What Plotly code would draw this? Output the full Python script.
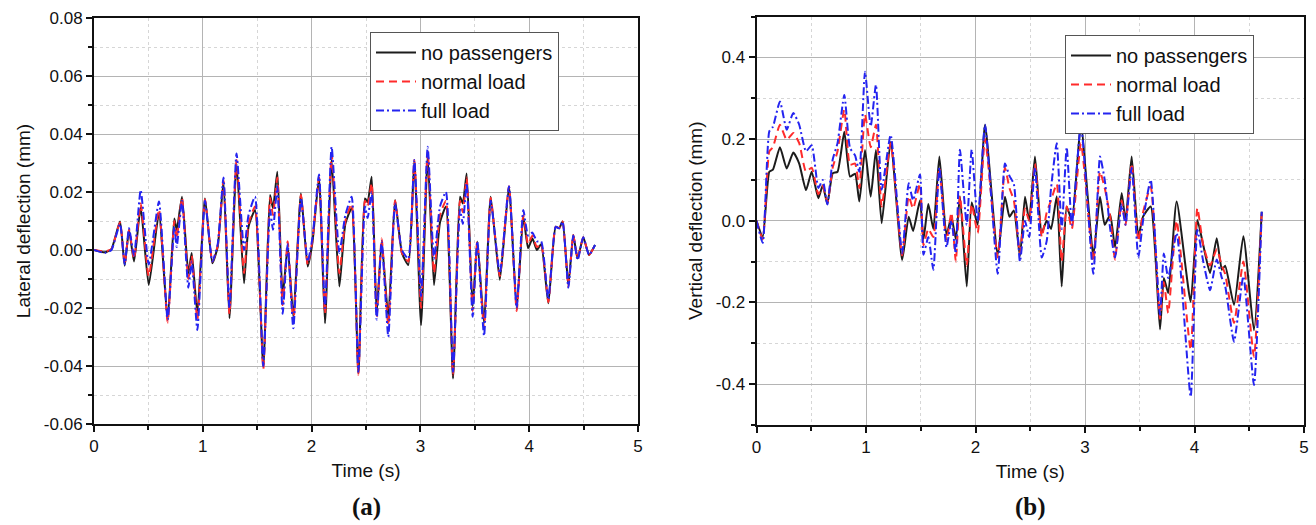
import plotly.graph_objects as go

# ---------------- data: lateral deflection (a) ----------------
t_lat = [0, 0.1, 0.16, 0.239, 0.282, 0.322, 0.368, 0.429, 0.503, 0.597, 0.677, 0.738, 0.76, 0.809,
         0.867, 0.898, 0.95, 1.02, 1.088, 1.137, 1.19, 1.245, 1.31, 1.379, 1.42, 1.48, 1.556, 1.618,
         1.645, 1.685, 1.734, 1.78, 1.832, 1.902, 1.964, 2.007, 2.068, 2.123, 2.184, 2.255, 2.31,
         2.368, 2.43, 2.49, 2.515, 2.552, 2.598, 2.644, 2.705, 2.767, 2.83, 2.889, 2.944, 3.006,
         3.067, 3.125, 3.18, 3.235, 3.3, 3.364, 3.39, 3.425, 3.48, 3.523, 3.585, 3.646, 3.73, 3.814,
         3.885, 3.946, 3.99, 4.03, 4.07, 4.11, 4.176, 4.243, 4.275, 4.307, 4.36, 4.405, 4.445,
         4.497, 4.55, 4.605]
lat_none = [0, -0.0008, 0.0003, 0.0098, -0.0054, 0.0069, -0.004, 0.0147, -0.0121, 0.0126, -0.0241,
            0.0109, 0.0069, 0.0184, -0.008, -0.001, -0.0218, 0.0178, -0.0046, 0.0011, 0.0236,
            -0.0235, 0.0299, -0.0115, 0.008, 0.0138, -0.0402, 0.019, 0.0144, 0.027, -0.016, 0.0012,
            -0.023, 0.0195, -0.0057, 0.0024, 0.0247, -0.0253, 0.031, -0.0126, 0.009, 0.0144, -0.0425,
            0.0178, 0.0165, 0.0253, -0.0218, 0.0029, -0.023, 0.0172, -0.001, -0.0052, 0.0305, -0.0259,
            0.0322, -0.0121, 0.0095, 0.015, -0.0443, 0.0184, 0.016, 0.0264, -0.0195, 0.0029, -0.0253,
            0.0184, -0.0103, 0.0218, -0.0201, 0.0115, 0.0006, 0.004, 0.0, 0.002, -0.0184, 0.008,
            0.0075, 0.0098, -0.012, 0.0052, -0.0029, 0.0044, -0.0017, 0.0017]
lat_normal = [0, -0.0005, 0.0003, 0.0095, -0.005, 0.007, -0.003, 0.016, -0.009, 0.014, -0.025,
              0.01, 0.004, 0.018, -0.01, -0.002, -0.024, 0.0175, -0.004, 0.0015, 0.024, -0.022,
              0.031, -0.008, 0.009, 0.015, -0.041, 0.018, 0.012, 0.025, -0.019, 0.003, -0.025,
              0.019, -0.005, 0.003, 0.025, -0.022, 0.033, -0.008, 0.01, 0.016, -0.043, 0.017, 0.015,
              0.023, -0.023, 0.004, -0.026, 0.017, -0.001, -0.004, 0.031, -0.02, 0.034, -0.008,
              0.012, 0.017, -0.043, 0.017, 0.013, 0.025, -0.021, 0.003, -0.027, 0.018, -0.009,
              0.022, -0.021, 0.012, 0.002, 0.005, 0.001, 0.002, -0.018, 0.008, 0.0075, 0.0098,
              -0.0125, 0.0052, -0.003, 0.0044, -0.0017, 0.0017]
lat_full = [0, -0.001, 0.0, 0.009, -0.005, 0.0075, -0.002, 0.0207, -0.005, 0.0167, -0.024, 0.008,
            0.001, 0.017, -0.013, -0.004, -0.0276, 0.017, -0.004, 0.002, 0.025, -0.02, 0.0333, 0.0,
            0.012, 0.0184, -0.04, 0.014, 0.007, 0.022, -0.022, 0.002, -0.027, 0.018, -0.004, 0.004,
            0.026, -0.02, 0.0356, -0.001, 0.012, 0.0184, -0.042, 0.015, 0.011, 0.02, -0.024, 0.003,
            -0.0299, 0.016, 0.0, -0.003, 0.031, -0.016, 0.0356, -0.003, 0.015, 0.02, -0.042, 0.014,
            0.009, 0.023, -0.023, 0.003, -0.0296, 0.017, -0.008, 0.022, -0.02, 0.0138, 0.005, 0.006,
            0.003, 0.003, -0.017, 0.008, 0.0075, 0.0098, -0.013, 0.005, -0.0035, 0.0044, -0.0017,
            0.0017]

# ---------------- data: vertical deflection (b) ----------------
t_vert = [0, 0.057, 0.117, 0.15, 0.214, 0.276, 0.336, 0.39, 0.452, 0.504, 0.565, 0.605, 0.647,
          0.696, 0.74, 0.802, 0.854, 0.9, 0.939, 0.991, 1.043, 1.091, 1.143, 1.225, 1.33, 1.39,
          1.43, 1.493, 1.525, 1.569, 1.615, 1.67, 1.735, 1.78, 1.82, 1.858, 1.92, 1.965, 2.02,
          2.087, 2.203, 2.269, 2.31, 2.35, 2.406, 2.452, 2.49, 2.543, 2.605, 2.65, 2.69, 2.742,
          2.787, 2.833, 2.88, 2.963, 3.076, 3.137, 3.18, 3.23, 3.274, 3.335, 3.37, 3.426, 3.487,
          3.53, 3.6, 3.685, 3.72, 3.76, 3.837, 3.965, 4.026, 4.08, 4.142, 4.203, 4.25, 4.28,
          4.361, 4.446, 4.543, 4.614]
vert_none = [0, -0.039, 0.12, 0.125, 0.18, 0.128, 0.167, 0.14, 0.075, 0.12, 0.055, 0.087, 0.041,
             0.116, 0.12, 0.218, 0.108, 0.115, 0.047, 0.173, 0.059, 0.173, -0.006, 0.193, -0.096,
             0.01, -0.025, 0.05, -0.045, 0.041, -0.02, 0.157, -0.035, 0.01, -0.045, 0.06, -0.161,
             0.045, -0.01, 0.235, -0.083, 0.059, 0.01, 0.025, -0.087, 0.059, 0.0, 0.157, -0.03,
             0.0, -0.02, 0.06, -0.161, 0.035, 0.0, 0.235, -0.085, 0.059, -0.01, 0.015, -0.065,
             0.068, 0.0, 0.157, -0.038, 0.01, 0.035, -0.266, -0.14, -0.177, 0.047, -0.198, 0.002,
             -0.06, -0.128, -0.043, -0.12, -0.11, -0.206, -0.038, -0.268, 0.022]
vert_normal = [0, -0.045, 0.17, 0.18, 0.235, 0.198, 0.215, 0.19, 0.12, 0.13, 0.065, 0.085, 0.045,
               0.13, 0.17, 0.272, 0.137, 0.14, 0.08, 0.26, 0.18, 0.235, 0.035, 0.19, -0.085, 0.06,
               0.03, 0.09, -0.06, -0.02, -0.04, 0.13, -0.05, 0.02, -0.1, 0.06, -0.11, 0.04, -0.03,
               0.2, -0.09, 0.13, 0.08, 0.05, -0.08, 0.03, 0.0, 0.14, -0.04, 0.02, 0.05, 0.09, -0.1,
               0.035, -0.02, 0.19, -0.1, 0.12, 0.08, 0.01, -0.095, 0.05, -0.01, 0.14, -0.05, 0.02,
               0.084, -0.24, -0.15, -0.226, 0.0, -0.316, 0.031, -0.06, -0.11, -0.07, -0.11, -0.13,
               -0.25, -0.1, -0.333, 0.022]
vert_full = [0, -0.054, 0.219, 0.23, 0.292, 0.223, 0.264, 0.235, 0.17, 0.185, 0.08, 0.1, 0.04,
             0.15, 0.19, 0.308, 0.178, 0.16, 0.12, 0.365, 0.231, 0.333, 0.076, 0.21, -0.08, 0.092,
             0.05, 0.113, -0.083, -0.04, -0.12, 0.13, -0.065, 0.0, -0.08, 0.174, -0.01, 0.174, 0.0,
             0.235, -0.13, 0.14, 0.11, 0.09, -0.1, 0.0, -0.04, 0.13, -0.09, -0.05, 0.08, 0.19,
             -0.02, 0.18, -0.01, 0.235, -0.13, 0.157, 0.1, -0.02, -0.09, 0.04, -0.01, 0.13, -0.09,
             0.0, 0.1, -0.23, -0.08, -0.14, -0.03, -0.431, -0.022, -0.1, -0.17, -0.095, -0.14,
             -0.16, -0.296, -0.136, -0.402, 0.022]

# ---------------- tick labels ----------------
x_tickvals = [0, 1, 2, 3, 4, 5]
x_ticktext = ["0", "1", "2", "3", "4", "5"]
lat_tickvals = [0.08, 0.06, 0.04, 0.02, 0.0, -0.02, -0.04, -0.06]
lat_ticktext = ["0.08", "0.06", "0.04", "0.02", "0.00", "-0.02", "-0.04", "-0.06"]
vert_tickvals = [0.4, 0.2, 0.0, -0.2, -0.4]
vert_ticktext = ["0.4", "0.2", "0.0", "-0.2", "-0.4"]
series_names = ["no passengers", "normal load", "full load"]

W, H = 1316, 525
colors = ["#1c1c1c", "#ff2b2b", "#2424f0"]
dashes = ["solid", "8px,5px", "8px,3px,2px,3px"]

fig = go.Figure()
for name, col, dsh, ys in zip(series_names, colors, dashes, [lat_none, lat_normal, lat_full]):
    fig.add_trace(go.Scatter(x=t_lat, y=ys, mode="lines", name=name,
                             line=dict(color=col, dash=dsh, width=2, shape="spline", smoothing=0.5),
                             xaxis="x", yaxis="y", legend="legend"))
for name, col, dsh, ys in zip(series_names, colors, dashes, [vert_none, vert_normal, vert_full]):
    fig.add_trace(go.Scatter(x=t_vert, y=ys, mode="lines", name=name,
                             line=dict(color=col, dash=dsh, width=2, shape="spline", smoothing=0.5),
                             xaxis="x2", yaxis="y2", legend="legend2"))

font_sans = "Liberation Sans, Arial, sans-serif"

def xaxis(domain, anchor):
    return dict(domain=domain, anchor=anchor, range=[0, 5], tickmode="array",
                tickvals=x_tickvals, ticktext=x_ticktext, showline=True, linecolor="#111",
                linewidth=2, mirror=True, ticks="outside", ticklen=6, tickwidth=1.5,
                tickcolor="#111", showgrid=True, gridcolor="#b4b4b4", gridwidth=1,
                zeroline=False, tickfont=dict(size=17, family=font_sans, color="#111"),
                minor=dict(tickmode="linear", tick0=0, dtick=0.5, ticks="outside", ticklen=4,
                           tickcolor="#111", showgrid=True, gridcolor="#d6d6d6", griddash="dot"),
                title=dict(text="Time (s)", font=dict(size=19, family=font_sans, color="#111"),
                           standoff=8),
                automargin=False)

fig.update_layout(
    width=W, height=H, margin=dict(l=0, r=0, t=0, b=0),
    paper_bgcolor="white", plot_bgcolor="white",
    xaxis=xaxis([94 / W, 638 / W], "y"),
    xaxis2=xaxis([756.5 / W, 1304 / W], "y2"),
    yaxis=dict(domain=[1 - 424 / H, 1 - 18 / H], anchor="x", range=[-0.06, 0.08],
               tickmode="array", tickvals=lat_tickvals, ticktext=lat_ticktext,
               showline=True, linecolor="#111", linewidth=2, mirror=True, ticks="outside",
               ticklen=6, tickwidth=1.5, tickcolor="#111", showgrid=True, gridcolor="#b4b4b4",
               zeroline=False, tickfont=dict(size=17, family=font_sans, color="#111"),
               minor=dict(tickmode="linear", tick0=0, dtick=0.01, ticks="outside", ticklen=4,
                          tickcolor="#111", showgrid=True, gridcolor="#d6d6d6", griddash="dot"),
               title=dict(text="Lateral deflection (mm)",
                          font=dict(size=19, family=font_sans, color="#111"), standoff=8),
               automargin=False),
    yaxis2=dict(domain=[1 - 425 / H, 1 - 16.5 / H], anchor="x2", range=[-0.5, 0.5],
                tickmode="array", tickvals=vert_tickvals, ticktext=vert_ticktext,
                showline=True, linecolor="#111", linewidth=2, mirror=True, ticks="outside",
                ticklen=6, tickwidth=1.5, tickcolor="#111", showgrid=True, gridcolor="#b4b4b4",
                zeroline=False, tickfont=dict(size=17, family=font_sans, color="#111"),
                minor=dict(tickmode="linear", tick0=0, dtick=0.1, ticks="outside", ticklen=4,
                           tickcolor="#111", showgrid=True, gridcolor="#d6d6d6", griddash="dot"),
                title=dict(text="Vertical deflection (mm)",
                           font=dict(size=19, family=font_sans, color="#111"), standoff=8),
                automargin=False),
    legend=dict(x=370 / W, y=1 - 32 / H, xanchor="left", yanchor="top", bgcolor="white",
                bordercolor="#555", borderwidth=1, font=dict(size=20, family=font_sans, color="#111"),
                tracegroupgap=0, itemwidth=40),
    legend2=dict(x=1065 / W, y=1 - 35 / H, xanchor="left", yanchor="top", bgcolor="white",
                 bordercolor="#555", borderwidth=1, font=dict(size=20, family=font_sans, color="#111"),
                 tracegroupgap=0, itemwidth=40),
    showlegend=True,
    annotations=[
        dict(text="<b>(a)</b>", x=366 / W, y=1 - 507 / H, xref="paper", yref="paper",
             xanchor="center", yanchor="middle", showarrow=False,
             font=dict(size=25, family="Liberation Serif, Times New Roman, serif", color="#111")),
        dict(text="<b>(b)</b>", x=1030 / W, y=1 - 507 / H, xref="paper", yref="paper",
             xanchor="center", yanchor="middle", showarrow=False,
             font=dict(size=25, family="Liberation Serif, Times New Roman, serif", color="#111")),
    ],
)

fig.write_html("out.html")
